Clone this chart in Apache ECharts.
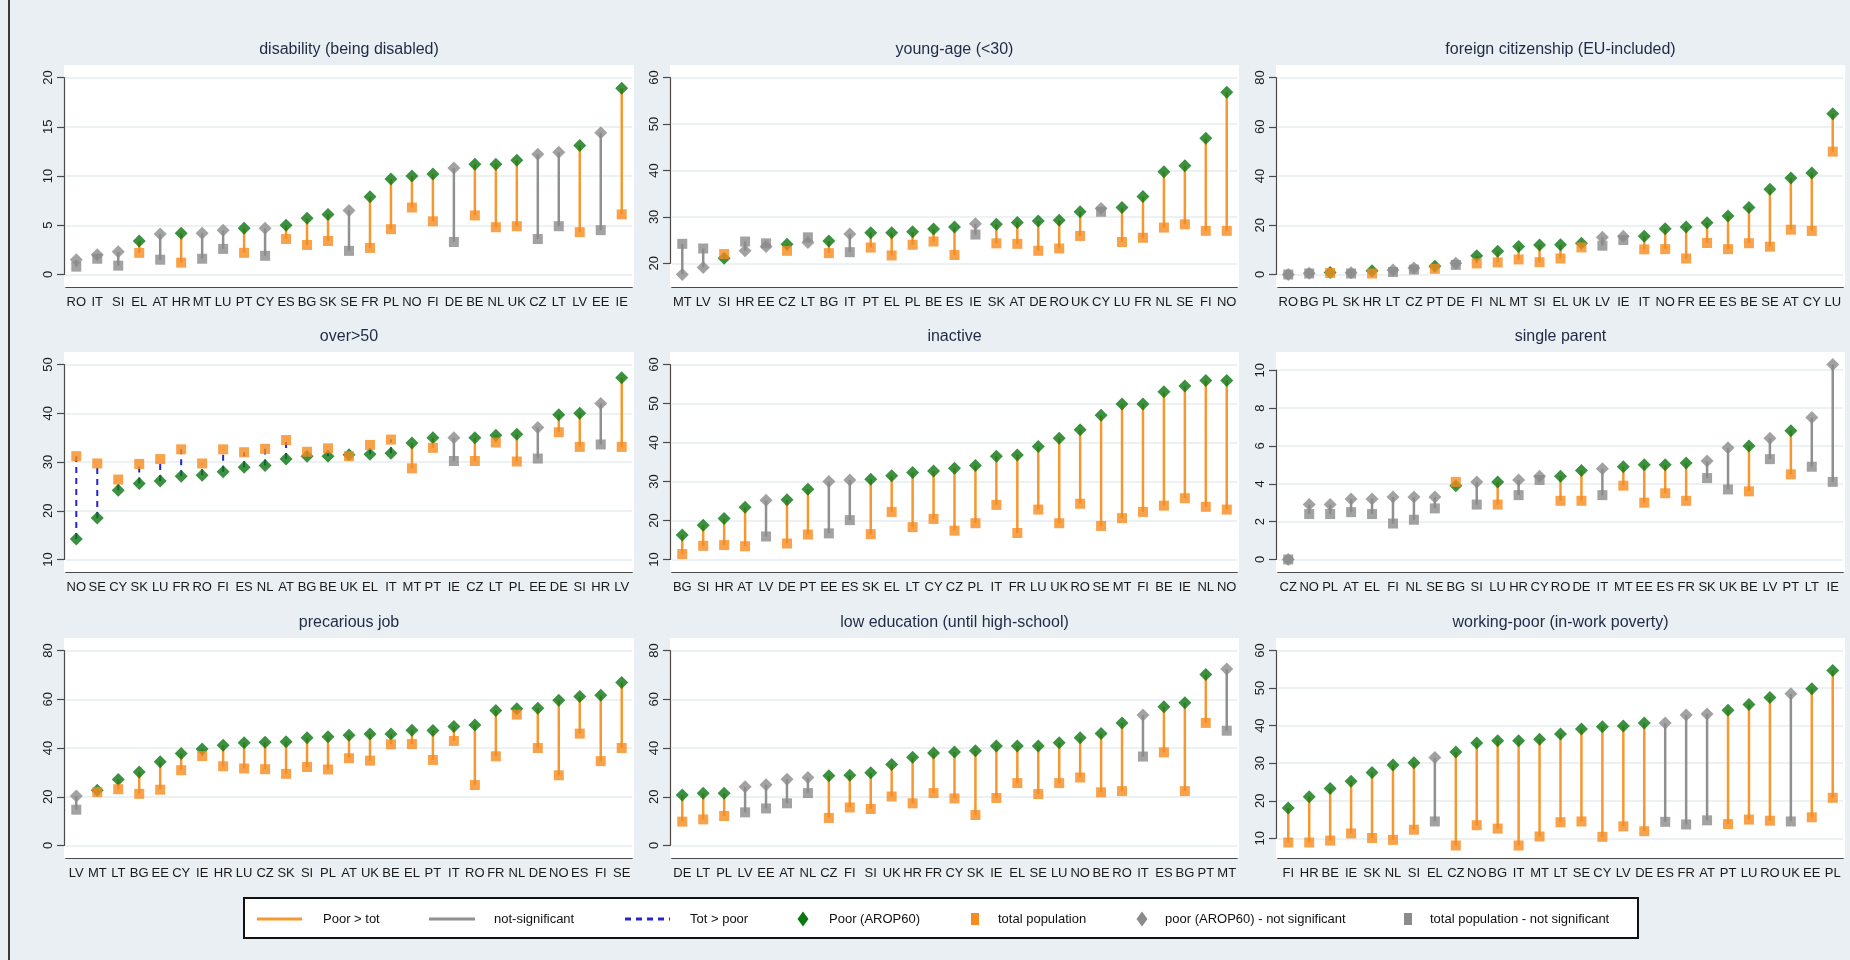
<!DOCTYPE html>
<html>
<head>
<meta charset="utf-8">
<script src="https://cdn.jsdelivr.net/npm/echarts@6/dist/echarts.min.js"></script>
<style>
  html, body { margin: 0; padding: 0; background: #e9eff3; }
  #chart { width: 1850px; height: 960px; }
</style>
</head>
<body>
<div id="chart"></div>
<script>
// At-risk-of-poverty rate (AROP60) of each group vs. the total population, by country.
// sig: 1 = difference significant, 0 = not significant.

const disabilityCountries = ['RO','IT','SI','EL','AT','HR','MT','LU','PT','CY','ES','BG','SK','SE','FR','PL','NO','FI','DE','BE','NL','UK','CZ','LT','LV','EE','IE'];
const disabilityPoor  = [1.5,2.0,2.3,3.4,4.1,4.2,4.2,4.5,4.7,4.7,5.0,5.7,6.1,6.5,7.9,9.7,10.0,10.2,10.8,11.2,11.2,11.6,12.2,12.4,13.1,14.4,18.9];
const disabilityTotal = [0.8,1.6,0.9,2.2,1.5,1.2,1.6,2.6,2.2,1.9,3.6,3.0,3.4,2.4,2.7,4.6,6.8,5.4,3.3,6.0,4.8,4.9,3.6,4.9,4.3,4.5,6.1];
const disabilitySig   = [0,0,0,1,0,1,0,0,1,0,1,1,1,0,1,1,1,1,0,1,1,1,0,0,1,0,1];
const disabilityTicks = [0,5,10,15,20];

const youngCountries = ['MT','LV','SI','HR','EE','CZ','LT','BG','IT','PT','EL','PL','BE','ES','IE','SK','AT','DE','RO','UK','CY','LU','FR','NL','SE','FI','NO'];
const youngPoor  = [17.6,19.1,21.1,22.7,23.6,24.1,24.5,24.8,26.3,26.6,26.6,26.8,27.4,27.8,28.5,28.4,28.8,29.1,29.3,31.1,31.8,32.0,34.4,39.7,41.0,46.9,56.8];
const youngTotal = [24.2,23.2,22.0,24.7,24.3,22.7,25.6,22.2,22.4,23.4,21.7,24.0,24.7,21.8,26.2,24.3,24.2,22.7,23.2,25.9,31.1,24.6,25.5,27.7,28.4,27.0,27.0];
const youngSig   = [0,0,1,0,0,1,0,1,0,1,1,1,1,1,0,1,1,1,1,1,0,1,1,1,1,1,1];
const youngTicks = [20,30,40,50,60];

const foreignCountries = ['RO','BG','PL','SK','HR','LT','CZ','PT','DE','FI','NL','MT','SI','EL','UK','LV','IE','IT','NO','FR','EE','ES','BE','SE','AT','CY','LU'];
const foreignPoor  = [0.0,0.5,0.8,0.7,1.5,1.8,2.6,3.4,4.6,7.6,9.4,11.4,12.0,12.1,12.7,15.1,15.5,15.5,18.6,19.3,21.0,23.8,27.2,34.6,39.2,41.2,65.3];
const foreignTotal = [0.0,0.4,0.6,0.4,0.4,1.0,2.0,2.3,3.9,4.5,4.9,6.1,5.0,6.5,11.0,11.7,14.0,10.2,10.3,6.5,12.8,10.3,12.7,11.3,18.2,17.7,49.9];
const foreignSig   = [0,0,1,0,1,0,0,1,0,1,1,1,1,1,1,0,0,1,1,1,1,1,1,1,1,1,1];
const foreignTicks = [0,20,40,60,80];

const over50Countries = ['NO','SE','CY','SK','LU','FR','RO','FI','ES','NL','AT','BG','BE','UK','EL','IT','MT','PT','IE','CZ','LT','PL','EE','DE','SI','HR','LV'];
const over50Poor  = [14.2,18.5,24.2,25.6,26.1,27.1,27.3,28.0,28.9,29.3,30.6,31.2,31.2,31.5,31.6,31.8,33.9,35.0,35.0,35.0,35.5,35.7,37.1,39.7,40.0,42.0,47.3];
const over50Total = [31.2,29.7,26.4,29.6,30.6,32.6,29.7,32.6,32.0,32.7,34.5,32.1,32.8,31.2,33.5,34.6,28.7,32.9,30.2,30.2,34.0,30.1,30.7,36.1,33.1,33.6,33.1];
const over50Sig   = [1,1,1,1,1,1,1,1,1,1,1,1,1,1,1,1,1,1,0,1,1,1,0,1,1,0,1];
const over50Ticks = [10,20,30,40,50];

const inactiveCountries = ['BG','SI','HR','AT','LV','DE','PT','EE','ES','SK','EL','LT','CY','CZ','PL','IT','FR','LU','UK','RO','SE','MT','FI','BE','IE','NL','NO'];
const inactivePoor  = [16.3,18.8,20.5,23.4,25.2,25.3,28.0,30.0,30.4,30.6,31.5,32.3,32.7,33.4,34.1,36.5,36.8,39.0,41.1,43.3,47.0,49.9,49.9,53.0,54.5,55.9,55.9];
const inactiveTotal = [11.4,13.5,13.7,13.4,15.9,14.1,16.4,16.7,20.1,16.5,22.2,18.3,20.4,17.4,19.3,24.0,16.8,22.8,19.3,24.3,18.6,20.6,22.2,23.8,25.7,23.5,22.8];
const inactiveSig   = [1,1,1,1,0,1,1,0,0,1,1,1,1,1,1,1,1,1,1,1,1,1,1,1,1,1,1];
const inactiveTicks = [10,20,30,40,50,60];

const singleCountries = ['CZ','NO','PL','AT','EL','FI','NL','SE','BG','SI','LU','HR','CY','RO','DE','IT','MT','EE','ES','FR','SK','UK','BE','LV','PT','LT','IE'];
const singlePoor  = [0.0,2.9,2.9,3.2,3.2,3.3,3.3,3.3,3.9,4.1,4.1,4.2,4.4,4.4,4.7,4.8,4.9,5.0,5.0,5.1,5.2,5.9,6.0,6.4,6.8,7.5,10.3];
const singleTotal = [0.0,2.4,2.4,2.5,2.4,1.9,2.1,2.7,4.1,2.9,2.9,3.4,4.2,3.1,3.1,3.4,3.9,3.0,3.5,3.1,4.3,3.7,3.6,5.3,4.5,4.9,4.1];
const singleSig   = [0,0,0,0,0,0,0,0,1,0,1,0,0,1,1,0,1,1,1,1,0,0,1,0,1,0,0];
const singleTicks = [0,2,4,6,8,10];

const precariousCountries = ['LV','MT','LT','BG','EE','CY','IE','HR','LU','CZ','SK','SI','PL','AT','UK','BE','EL','PT','IT','RO','FR','NL','DE','NO','ES','FI','SE'];
const precariousPoor  = [20.3,22.7,27.1,30.2,34.4,37.7,39.6,41.1,42.2,42.4,42.6,44.2,44.6,45.2,45.7,45.7,47.3,47.2,48.8,49.4,55.4,56.1,56.3,59.6,61.1,61.6,66.9];
const precariousTotal = [14.7,21.9,23.1,21.2,22.9,30.9,36.7,32.5,31.6,31.3,29.4,32.2,31.2,35.8,34.8,41.5,41.6,35.1,42.9,24.8,36.6,53.7,40.0,28.8,45.9,34.6,40.0];
const precariousSig   = [0,1,1,1,1,1,1,1,1,1,1,1,1,1,1,1,1,1,1,1,1,1,1,1,1,1,1];
const precariousTicks = [0,20,40,60,80];

const loweduCountries = ['DE','LT','PL','LV','EE','AT','NL','CZ','FI','SI','UK','HR','FR','CY','SK','IE','EL','SE','LU','NO','BE','RO','IT','ES','BG','PT','MT'];
const loweduPoor  = [20.7,21.4,21.4,24.1,24.9,27.2,27.9,28.6,28.8,29.8,33.2,36.2,38.0,38.4,38.9,40.8,40.8,40.8,42.2,44.2,46.0,50.3,53.5,56.9,58.6,70.2,72.4];
const loweduTotal = [9.8,10.7,12.1,13.6,15.2,17.3,21.5,11.3,15.6,15.0,20.1,17.3,21.5,19.3,12.5,19.5,25.6,21.1,25.6,27.9,21.8,22.3,36.5,38.2,22.3,50.3,47.1];
const loweduSig   = [1,1,1,0,0,0,0,1,1,1,1,1,1,1,1,1,1,1,1,1,1,1,0,1,1,1,0];
const loweduTicks = [0,20,40,60,80];

const workpoorCountries = ['FI','HR','BE','IE','SK','NL','SI','EL','CZ','NO','BG','IT','MT','LT','SE','CY','LV','DE','ES','FR','AT','PT','LU','RO','UK','EE','PL'];
const workpoorPoor  = [18.1,21.1,23.3,25.2,27.5,29.5,30.1,31.5,33.0,35.4,36.0,36.0,36.4,37.8,39.1,39.7,39.9,40.7,40.7,42.8,43.1,44.1,45.6,47.5,48.5,49.8,54.7];
const workpoorTotal = [8.9,8.9,9.4,11.3,10.1,9.6,12.3,14.5,8.1,13.5,12.6,8.1,10.5,14.3,14.5,10.4,13.2,11.9,14.4,13.7,14.8,13.8,15.0,14.7,14.5,15.6,20.8];
const workpoorSig   = [1,1,1,1,1,1,1,0,1,1,1,1,1,1,1,1,1,1,0,0,0,1,1,1,0,1,1];
const workpoorTicks = [10,20,30,40,50,60];

const panels = [
  { title: 'disability (being disabled)', countries: disabilityCountries, poor: disabilityPoor, total: disabilityTotal, sig: disabilitySig, ticks: disabilityTicks },
  { title: 'young-age (<30)', countries: youngCountries, poor: youngPoor, total: youngTotal, sig: youngSig, ticks: youngTicks },
  { title: 'foreign citizenship (EU-included)', countries: foreignCountries, poor: foreignPoor, total: foreignTotal, sig: foreignSig, ticks: foreignTicks },
  { title: 'over>50', countries: over50Countries, poor: over50Poor, total: over50Total, sig: over50Sig, ticks: over50Ticks },
  { title: 'inactive', countries: inactiveCountries, poor: inactivePoor, total: inactiveTotal, sig: inactiveSig, ticks: inactiveTicks },
  { title: 'single parent', countries: singleCountries, poor: singlePoor, total: singleTotal, sig: singleSig, ticks: singleTicks },
  { title: 'precarious job', countries: precariousCountries, poor: precariousPoor, total: precariousTotal, sig: precariousSig, ticks: precariousTicks },
  { title: 'low education (until high-school)', countries: loweduCountries, poor: loweduPoor, total: loweduTotal, sig: loweduSig, ticks: loweduTicks },
  { title: 'working-poor (in-work poverty)', countries: workpoorCountries, poor: workpoorPoor, total: workpoorTotal, sig: workpoorSig, ticks: workpoorTicks }
];

// Styling
const FONT = "'Liberation Sans Narrow', 'Arial Narrow', 'Liberation Sans', Arial, sans-serif";
const C = {
  bg: '#e9eff3',
  plot: '#ffffff',
  grid: '#e6ecf0',
  axis: '#4a4a4a',
  text: '#1a1a1a',
  title: '#1f2b45',
  green: '#0a7610',
  orangeMark: '#f68b1f',
  orangeLine: '#f5982f',
  greyMark: '#8b8b8b',
  greyLine: '#909090',
  blue: '#2424d0'
};

// Plot-region boxes: three columns, three rows
const LAYOUT = {
  left: [64, 670, 1276], right: [634, 1239, 1845],
  top: [65, 352, 638], bottom: [287, 572, 858],
  pad: 12.5, inset: 1.8
};

const option = {
  animation: false,
  backgroundColor: C.bg,
  grid: [], xAxis: [], yAxis: [], series: [],
  graphic: { elements: [] }
};

// segment kind: 0 not significant, 1 poor above total, 2 total above poor
function segKind(sig, poor, total) {
  if (!sig) return 0;
  return poor >= total ? 1 : 2;
}

// white plot regions first (drawn underneath)
panels.forEach((p, k) => {
  const r = Math.floor(k / 3), c = k % 3;
  const L = LAYOUT.left[c], R = LAYOUT.right[c], T = LAYOUT.top[r], B = LAYOUT.bottom[r];
  option.grid.push({ left: L, top: T, width: R - L, height: B - T, show: true, backgroundColor: C.plot, borderWidth: 0, z: 0 });
  option.xAxis.push({ type: 'value', gridIndex: k, show: false, min: 0, max: 1 });
  option.yAxis.push({ type: 'value', gridIndex: k, show: false, min: 0, max: 1 });
});

panels.forEach((p, k) => {
  const r = Math.floor(k / 3), c = k % 3;
  const L = LAYOUT.left[c], R = LAYOUT.right[c], T = LAYOUT.top[r], B = LAYOUT.bottom[r];
  const vals = p.poor.concat(p.total);
  const tMin = p.ticks[0], tMax = p.ticks[p.ticks.length - 1], step = p.ticks[1] - p.ticks[0];
  const lo = Math.min(tMin, Math.min.apply(null, vals));
  const hi = Math.max(tMax, Math.max.apply(null, vals));
  const coreTop = T + LAYOUT.pad, coreBot = B - LAYOUT.pad;
  const ppu = (coreBot - coreTop) / (hi - lo);
  const gTop = coreTop + (hi - tMax) * ppu;
  const gBot = coreBot - (tMin - lo) * ppu;
  const gi = 9 + k;

  option.grid.push({ left: L + LAYOUT.inset, top: gTop, width: R - L - 2 * LAYOUT.inset, height: gBot - gTop });

  option.xAxis.push({
    type: 'category', gridIndex: gi, data: p.countries, offset: B - gBot,
    axisLine: { onZero: false, lineStyle: { color: C.axis, width: 1.2 } },
    axisTick: { alignWithLabel: true, length: 8, lineStyle: { color: C.axis, width: 1.2 } },
    axisLabel: { interval: 0, margin: 9, fontSize: 13, color: C.text, fontFamily: FONT },
    splitLine: { show: false }
  });
  option.yAxis.push({
    type: 'value', gridIndex: gi, min: tMin, max: tMax, interval: step, offset: LAYOUT.inset,
    axisLine: { show: true, onZero: false, lineStyle: { color: C.axis, width: 1.2 } },
    axisTick: { show: true, length: 7, lineStyle: { color: C.axis, width: 1.2 } },
    axisLabel: { rotate: 90, margin: 9, fontSize: 13, color: C.text, fontFamily: FONT },
    splitLine: { show: true, lineStyle: { color: C.grid, width: 1.5 } }
  });

  // connecting segments
  option.series.push({
    type: 'custom', xAxisIndex: gi, yAxisIndex: gi, clip: false, silent: true,
    dimensions: ['idx', 'poor', 'total', 'kind'],
    encode: { x: 0, y: [1, 2] },
    data: p.countries.map((cc, i) => [i, p.poor[i], p.total[i], segKind(p.sig[i], p.poor[i], p.total[i])]),
    renderItem: function (params, api) {
      const i = api.value(0);
      const a = api.coord([i, api.value(1)]);
      const b = api.coord([i, api.value(2)]);
      const kind = api.value(3);
      const style = kind === 0 ? { stroke: C.greyLine, lineWidth: 2.5 }
        : kind === 1 ? { stroke: C.orangeLine, lineWidth: 2.5 }
        : { stroke: C.blue, lineWidth: 2, lineDash: [6, 5] };
      return { type: 'line', shape: { x1: a[0], y1: a[1], x2: b[0], y2: b[1] }, style: style };
    }
  });

  // poor (AROP60) diamonds
  option.series.push({
    type: 'scatter', xAxisIndex: gi, yAxisIndex: gi, clip: false, silent: true,
    symbol: 'diamond', symbolSize: 13,
    data: p.countries.map((cc, i) => ({ value: [i, p.poor[i]], itemStyle: { color: p.sig[i] ? C.green : C.greyMark } }))
  });

  // total population squares
  option.series.push({
    type: 'scatter', xAxisIndex: gi, yAxisIndex: gi, clip: false, silent: true,
    symbol: 'rect', symbolSize: 10,
    data: p.countries.map((cc, i) => ({ value: [i, p.total[i]], itemStyle: { color: p.sig[i] ? C.orangeMark : C.greyMark } }))
  });

  // panel title
  option.graphic.elements.push({
    type: 'text', x: (L + R) / 2, y: T - 15,
    style: { text: p.title, fill: C.title, fontSize: 16, fontFamily: FONT,
      textAlign: 'center', textVerticalAlign: 'middle', align: 'center', verticalAlign: 'middle' }
  });
});

// frame line on the left edge
option.graphic.elements.push({ type: 'line', shape: { x1: 9, y1: 0, x2: 9, y2: 960 }, style: { stroke: '#3a3a3a', lineWidth: 2 } });

// legend
const LEG = { x: 244, y: 898, w: 1394, h: 40, cy: 919 };
const legendText = (x, t) => ({
  type: 'text', x: x, y: LEG.cy,
  style: { text: t, fill: '#111', fontSize: 13, fontFamily: FONT,
    textAlign: 'left', textVerticalAlign: 'middle', align: 'left', verticalAlign: 'middle' }
});
const diamondPts = (cx, w, h) => [[cx, LEG.cy - h / 2], [cx + w / 2, LEG.cy], [cx, LEG.cy + h / 2], [cx - w / 2, LEG.cy]];
option.graphic.elements.push(
  { type: 'rect', shape: { x: LEG.x, y: LEG.y, width: LEG.w, height: LEG.h }, style: { fill: '#ffffff', stroke: '#111', lineWidth: 2 } },
  { type: 'line', shape: { x1: 257, y1: LEG.cy, x2: 302, y2: LEG.cy }, style: { stroke: C.orangeLine, lineWidth: 3 } },
  legendText(323, 'Poor > tot'),
  { type: 'line', shape: { x1: 429, y1: LEG.cy, x2: 475, y2: LEG.cy }, style: { stroke: C.greyLine, lineWidth: 3 } },
  legendText(494, 'not-significant'),
  { type: 'line', shape: { x1: 625, y1: LEG.cy, x2: 670, y2: LEG.cy }, style: { stroke: C.blue, lineWidth: 3, lineDash: [6, 5] } },
  legendText(690, 'Tot > poor'),
  { type: 'polygon', shape: { points: diamondPts(803, 11, 15) }, style: { fill: C.green } },
  legendText(829, 'Poor (AROP60)'),
  { type: 'rect', shape: { x: 971, y: LEG.cy - 6, width: 8, height: 12 }, style: { fill: C.orangeMark } },
  legendText(998, 'total population'),
  { type: 'polygon', shape: { points: diamondPts(1142, 11, 15) }, style: { fill: C.greyMark } },
  legendText(1165, 'poor (AROP60) - not significant'),
  { type: 'rect', shape: { x: 1404, y: LEG.cy - 6, width: 8, height: 12 }, style: { fill: C.greyMark } },
  legendText(1430, 'total population - not significant')
);

const chart = echarts.init(document.getElementById('chart'), null, { renderer: 'canvas' });
chart.setOption(option);
</script>
</body>
</html>
